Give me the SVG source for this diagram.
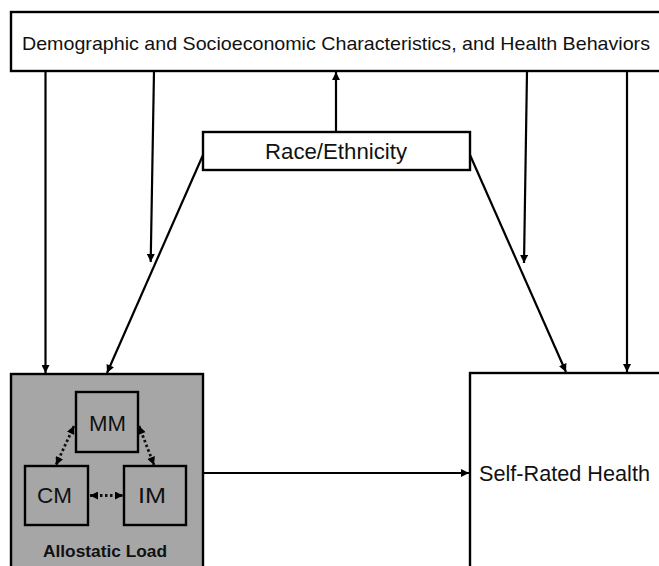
<svg xmlns="http://www.w3.org/2000/svg" width="659" height="566" viewBox="0 0 659 566">
<style>
.box{fill:#fff;stroke:#000;stroke-width:2.4}
.gbox{fill:#a6a6a6;stroke:#000;stroke-width:2.4}
.ibox{fill:#a6a6a6;stroke:#000;stroke-width:2.4}
.t{font-family:"Liberation Sans",Arial,sans-serif;fill:#111}
.ln{stroke:#000;stroke-width:2.2;fill:none}
.dot{stroke:#111;stroke-width:2.8;stroke-dasharray:2.5 2.5;fill:none}
</style>
<defs>
<marker id="ah" markerUnits="userSpaceOnUse" viewBox="0 0 10 10" refX="10" refY="5" markerWidth="9" markerHeight="8" orient="auto">
<path d="M0,0 L10,5 L0,10 Z" fill="#000"/>
</marker>
<marker id="ahs" markerUnits="userSpaceOnUse" viewBox="0 0 10 10" refX="0" refY="5" markerWidth="9" markerHeight="8" orient="auto">
<path d="M10,0 L0,5 L10,10 Z" fill="#000"/>
</marker>
</defs>
<rect width="659" height="566" fill="#fff"/>
<g id="demographic">
<rect class="box" x="11" y="12" width="652" height="59"/>
<text class="t" x="22" y="50" font-size="18.5" textLength="628" lengthAdjust="spacingAndGlyphs">Demographic and Socioeconomic Characteristics, and Health Behaviors</text>
</g>
<g id="race">
<rect class="box" x="203" y="132" width="267" height="38"/>
<text class="t" x="265" y="159" font-size="22" textLength="142" lengthAdjust="spacingAndGlyphs">Race/Ethnicity</text>
</g>
<g id="allostatic">
<rect class="gbox" x="11" y="374" width="192" height="200"/>
<text class="t" x="43" y="557" font-size="17" font-weight="bold" textLength="124" lengthAdjust="spacingAndGlyphs">Allostatic  Load</text>
</g>
<g id="mm">
<rect class="ibox" x="76" y="392" width="62" height="60"/>
<text class="t" x="89" y="431" font-size="22" textLength="37" lengthAdjust="spacingAndGlyphs">MM</text>
</g>
<g id="cm">
<rect class="ibox" x="25" y="466" width="63" height="59"/>
<text class="t" x="37" y="503" font-size="22" textLength="35" lengthAdjust="spacingAndGlyphs">CM</text>
</g>
<g id="im">
<rect class="ibox" x="124" y="466" width="62" height="59"/>
<text class="t" x="138" y="503" font-size="22" textLength="28" lengthAdjust="spacingAndGlyphs">IM</text>
</g>
<g id="selfrated">
<rect class="box" x="470" y="373" width="200" height="200"/>
<text class="t" x="479" y="481" font-size="22.5" textLength="171" lengthAdjust="spacingAndGlyphs">Self-Rated Health</text>
</g>
<g id="connectors">
<line class="ln" x1="45.5" y1="71" x2="45.5" y2="373" marker-end="url(#ah)"/>
<line class="ln" x1="154" y1="71" x2="150.7" y2="262" marker-end="url(#ah)"/>
<line class="ln" x1="336" y1="132" x2="336" y2="72" marker-end="url(#ah)"/>
<line class="ln" x1="527" y1="71" x2="524" y2="263" marker-end="url(#ah)"/>
<line class="ln" x1="627" y1="71" x2="627" y2="372" marker-end="url(#ah)"/>
<line class="ln" x1="203" y1="155" x2="107" y2="373" marker-end="url(#ah)"/>
<line class="ln" x1="470" y1="155" x2="566" y2="372" marker-end="url(#ah)"/>
<line class="ln" x1="203" y1="473" x2="469" y2="473" marker-end="url(#ah)"/>
<line class="dot" x1="74" y1="426" x2="56" y2="465" marker-start="url(#ahs)" marker-end="url(#ah)"/>
<line class="dot" x1="139" y1="426" x2="154" y2="465" marker-start="url(#ahs)" marker-end="url(#ah)"/>
<line class="dot" x1="90" y1="495.5" x2="123" y2="495.5" marker-start="url(#ahs)" marker-end="url(#ah)"/>
</g>
</svg>
